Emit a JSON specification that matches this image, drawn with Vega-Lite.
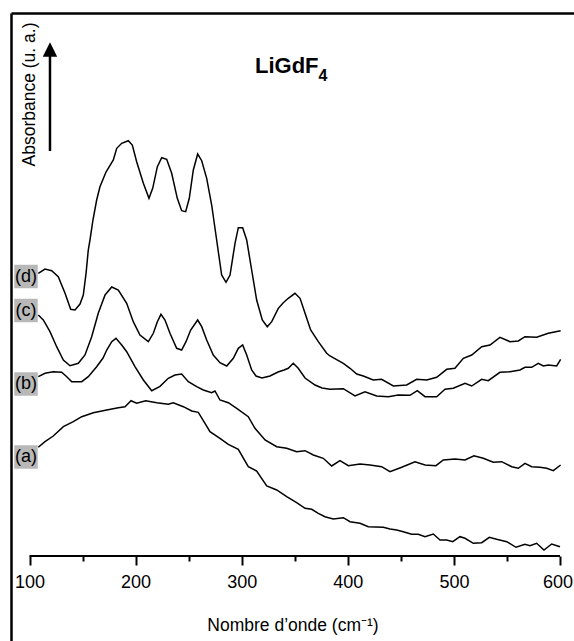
{
  "$schema": "https://vega.github.io/schema/vega-lite/v6.json",
  "width": 563,
  "height": 628,
  "autosize": {"type": "none"},
  "padding": {"left": 11, "top": 13, "right": 0, "bottom": 0},
  "background": "white",
  "config": {"view": {"stroke": null}, "font": "Liberation Sans"},
  "datasets": {
    "spectra": [
      {"s":"d","nu":108.3,"a":367.7},{"s":"d","nu":114.6,"a":372},{"s":"d","nu":120.9,"a":370.3},{"s":"d","nu":127.1,"a":364.3},{"s":"d","nu":133.5,"a":347.7},{"s":"d","nu":138.8,"a":331.7},{"s":"d","nu":142.9,"a":331},{"s":"d","nu":147.6,"a":337},{"s":"d","nu":150.7,"a":346},{"s":"d","nu":153.3,"a":367.7},{"s":"d","nu":155.4,"a":391},{"s":"d","nu":157.0,"a":401},{"s":"d","nu":159.8,"a":421},{"s":"d","nu":163.3,"a":441},{"s":"d","nu":166.4,"a":454.3},{"s":"d","nu":172.1,"a":469},{"s":"d","nu":179.0,"a":481},{"s":"d","nu":182.2,"a":492.7},{"s":"d","nu":186.9,"a":497.7},{"s":"d","nu":193.1,"a":500.3},{"s":"d","nu":196.9,"a":496},{"s":"d","nu":201.0,"a":479.3},{"s":"d","nu":207.3,"a":457.7},{"s":"d","nu":212.6,"a":442.7},{"s":"d","nu":216.1,"a":452.7},{"s":"d","nu":220.5,"a":474.3},{"s":"d","nu":224.6,"a":483.3},{"s":"d","nu":229.3,"a":481.7},{"s":"d","nu":234.0,"a":467.7},{"s":"d","nu":239.3,"a":442.7},{"s":"d","nu":243.4,"a":430.3},{"s":"d","nu":247.2,"a":429.3},{"s":"d","nu":250.6,"a":442.7},{"s":"d","nu":254.4,"a":471},{"s":"d","nu":258.5,"a":487},{"s":"d","nu":262.3,"a":480.3},{"s":"d","nu":267.0,"a":462.7},{"s":"d","nu":271.7,"a":436},{"s":"d","nu":276.4,"a":401},{"s":"d","nu":281.1,"a":366},{"s":"d","nu":285.2,"a":358.7},{"s":"d","nu":289.0,"a":366},{"s":"d","nu":293.7,"a":397.7},{"s":"d","nu":296.8,"a":413.3},{"s":"d","nu":300.9,"a":413.3},{"s":"d","nu":304.7,"a":401},{"s":"d","nu":309.4,"a":371},{"s":"d","nu":314.1,"a":341},{"s":"d","nu":319.4,"a":321},{"s":"d","nu":324.1,"a":314.3},{"s":"d","nu":328.3,"a":319.3},{"s":"d","nu":334.5,"a":332.7},{"s":"d","nu":339.2,"a":338.3},{"s":"d","nu":343.9,"a":342.7},{"s":"d","nu":350.2,"a":347.7},{"s":"d","nu":355.0,"a":342.7},{"s":"d","nu":359.7,"a":327.7},{"s":"d","nu":365.0,"a":311},{"s":"d","nu":372.2,"a":299.3},{"s":"d","nu":380.1,"a":287.7},{"s":"d","nu":383.2,"a":285},{"s":"d","nu":395.8,"a":277.7},{"s":"d","nu":402.1,"a":272.7},{"s":"d","nu":408.4,"a":267},{"s":"d","nu":414.6,"a":265},{"s":"d","nu":424.0,"a":261},{"s":"d","nu":431.9,"a":261.7},{"s":"d","nu":442.9,"a":255},{"s":"d","nu":455.5,"a":256},{"s":"d","nu":464.9,"a":261.7},{"s":"d","nu":474.4,"a":261},{"s":"d","nu":483.8,"a":263.7},{"s":"d","nu":493.2,"a":271.7},{"s":"d","nu":501.0,"a":272.7},{"s":"d","nu":508.9,"a":282.7},{"s":"d","nu":516.8,"a":286},{"s":"d","nu":526.2,"a":294.3},{"s":"d","nu":534.0,"a":296},{"s":"d","nu":543.4,"a":303.7},{"s":"d","nu":552.9,"a":299.3},{"s":"d","nu":560.7,"a":300},{"s":"d","nu":567.0,"a":304.3},{"s":"d","nu":578.0,"a":303.7},{"s":"d","nu":589.0,"a":307.7},{"s":"d","nu":600.6,"a":310.3},
      {"s":"c","nu":108.3,"a":326},{"s":"c","nu":113.0,"a":321},{"s":"c","nu":119.3,"a":309.3},{"s":"c","nu":125.6,"a":294.3},{"s":"c","nu":131.9,"a":281},{"s":"c","nu":138.2,"a":275.3},{"s":"c","nu":146.0,"a":277.7},{"s":"c","nu":152.3,"a":286},{"s":"c","nu":158.6,"a":304.3},{"s":"c","nu":164.8,"a":327.7},{"s":"c","nu":171.2,"a":346},{"s":"c","nu":177.5,"a":354},{"s":"c","nu":183.7,"a":351},{"s":"c","nu":191.6,"a":337.7},{"s":"c","nu":197.8,"a":319.3},{"s":"c","nu":204.1,"a":306},{"s":"c","nu":212.0,"a":299.3},{"s":"c","nu":216.7,"a":307.7},{"s":"c","nu":220.5,"a":319.3},{"s":"c","nu":223.9,"a":326.7},{"s":"c","nu":227.7,"a":321},{"s":"c","nu":232.4,"a":307.7},{"s":"c","nu":238.7,"a":292.7},{"s":"c","nu":243.4,"a":291},{"s":"c","nu":247.5,"a":299.3},{"s":"c","nu":251.9,"a":311},{"s":"c","nu":258.5,"a":321},{"s":"c","nu":262.3,"a":314.3},{"s":"c","nu":267.0,"a":301},{"s":"c","nu":273.2,"a":286},{"s":"c","nu":279.5,"a":278.3},{"s":"c","nu":285.9,"a":275},{"s":"c","nu":292.1,"a":282.7},{"s":"c","nu":296.8,"a":292.7},{"s":"c","nu":300.9,"a":296},{"s":"c","nu":304.7,"a":286},{"s":"c","nu":309.4,"a":271},{"s":"c","nu":313.5,"a":265},{"s":"c","nu":319.1,"a":263},{"s":"c","nu":326.7,"a":265},{"s":"c","nu":334.2,"a":269},{"s":"c","nu":339.9,"a":271},{"s":"c","nu":343.9,"a":272.7},{"s":"c","nu":348.6,"a":277.7},{"s":"c","nu":353.3,"a":272.7},{"s":"c","nu":359.7,"a":263},{"s":"c","nu":369.1,"a":256},{"s":"c","nu":375.7,"a":253},{"s":"c","nu":383.2,"a":251.7},{"s":"c","nu":395.8,"a":252.3},{"s":"c","nu":406.8,"a":245},{"s":"c","nu":416.2,"a":249.3},{"s":"c","nu":427.2,"a":245},{"s":"c","nu":438.2,"a":244.3},{"s":"c","nu":447.6,"a":246},{"s":"c","nu":458.6,"a":245.7},{"s":"c","nu":465.5,"a":250.3},{"s":"c","nu":472.8,"a":244.3},{"s":"c","nu":483.8,"a":244.3},{"s":"c","nu":491.6,"a":251.7},{"s":"c","nu":499.4,"a":252.7},{"s":"c","nu":510.5,"a":257.7},{"s":"c","nu":516.8,"a":255},{"s":"c","nu":526.2,"a":261.7},{"s":"c","nu":532.4,"a":260.3},{"s":"c","nu":543.4,"a":268.7},{"s":"c","nu":552.9,"a":269.3},{"s":"c","nu":562.3,"a":271},{"s":"c","nu":567.0,"a":273.7},{"s":"c","nu":573.3,"a":273.7},{"s":"c","nu":579.5,"a":277.7},{"s":"c","nu":584.3,"a":275},{"s":"c","nu":589.0,"a":276},{"s":"c","nu":596.9,"a":275},{"s":"c","nu":600.6,"a":281.7},
      {"s":"b","nu":108.3,"a":264.3},{"s":"b","nu":114.6,"a":267.7},{"s":"b","nu":122.4,"a":269.3},{"s":"b","nu":130.3,"a":268.7},{"s":"b","nu":135.1,"a":264.3},{"s":"b","nu":139.8,"a":259.3},{"s":"b","nu":149.2,"a":259.3},{"s":"b","nu":155.4,"a":264.3},{"s":"b","nu":163.3,"a":274.3},{"s":"b","nu":169.3,"a":283},{"s":"b","nu":172.8,"a":291},{"s":"b","nu":177.5,"a":299.3},{"s":"b","nu":181.5,"a":302.7},{"s":"b","nu":186.9,"a":296},{"s":"b","nu":191.6,"a":289.3},{"s":"b","nu":199.4,"a":274.3},{"s":"b","nu":207.3,"a":261},{"s":"b","nu":215.2,"a":250.3},{"s":"b","nu":223.0,"a":254.7},{"s":"b","nu":230.8,"a":262.7},{"s":"b","nu":237.1,"a":266},{"s":"b","nu":243.4,"a":267},{"s":"b","nu":249.7,"a":259.3},{"s":"b","nu":257.6,"a":254.3},{"s":"b","nu":263.8,"a":251},{"s":"b","nu":271.7,"a":248.3},{"s":"b","nu":274.8,"a":250},{"s":"b","nu":279.5,"a":241},{"s":"b","nu":287.4,"a":238.3},{"s":"b","nu":295.3,"a":232.7},{"s":"b","nu":306.2,"a":224.3},{"s":"b","nu":312.5,"a":212.7},{"s":"b","nu":322.0,"a":201},{"s":"b","nu":333.0,"a":194.3},{"s":"b","nu":342.4,"a":192.7},{"s":"b","nu":351.8,"a":189.3},{"s":"b","nu":359.7,"a":190.3},{"s":"b","nu":367.5,"a":186},{"s":"b","nu":376.9,"a":182.7},{"s":"b","nu":384.8,"a":175},{"s":"b","nu":392.6,"a":180.3},{"s":"b","nu":400.5,"a":175.3},{"s":"b","nu":411.5,"a":177},{"s":"b","nu":420.9,"a":176},{"s":"b","nu":431.9,"a":174.3},{"s":"b","nu":439.8,"a":169.3},{"s":"b","nu":450.8,"a":173.7},{"s":"b","nu":463.3,"a":179.3},{"s":"b","nu":472.8,"a":176},{"s":"b","nu":483.1,"a":175.3},{"s":"b","nu":490.0,"a":181},{"s":"b","nu":501.0,"a":182},{"s":"b","nu":510.5,"a":181},{"s":"b","nu":518.9,"a":185.3},{"s":"b","nu":527.7,"a":182.7},{"s":"b","nu":537.1,"a":178.7},{"s":"b","nu":545.0,"a":179.3},{"s":"b","nu":554.5,"a":174.3},{"s":"b","nu":560.7,"a":172.7},{"s":"b","nu":567.0,"a":177.7},{"s":"b","nu":573.3,"a":174.3},{"s":"b","nu":581.1,"a":173.7},{"s":"b","nu":587.5,"a":172.7},{"s":"b","nu":593.7,"a":170.3},{"s":"b","nu":600.6,"a":176},
      {"s":"a","nu":108.3,"a":193.7},{"s":"a","nu":114.6,"a":199.3},{"s":"a","nu":122.4,"a":205},{"s":"a","nu":131.9,"a":214.3},{"s":"a","nu":141.3,"a":219.3},{"s":"a","nu":149.2,"a":224.3},{"s":"a","nu":160.1,"a":228.3},{"s":"a","nu":172.8,"a":231},{"s":"a","nu":183.7,"a":233.3},{"s":"a","nu":190.0,"a":234.3},{"s":"a","nu":195.7,"a":240.3},{"s":"a","nu":201.0,"a":237.7},{"s":"a","nu":209.5,"a":240.3},{"s":"a","nu":219.9,"a":238.3},{"s":"a","nu":230.8,"a":236.7},{"s":"a","nu":235.5,"a":238.3},{"s":"a","nu":245.0,"a":234.3},{"s":"a","nu":252.9,"a":230},{"s":"a","nu":259.1,"a":228.7},{"s":"a","nu":265.4,"a":217.7},{"s":"a","nu":270.1,"a":209.3},{"s":"a","nu":279.5,"a":202.7},{"s":"a","nu":287.4,"a":196.7},{"s":"a","nu":296.8,"a":191.7},{"s":"a","nu":306.2,"a":174.3},{"s":"a","nu":314.1,"a":170},{"s":"a","nu":323.6,"a":155},{"s":"a","nu":333.0,"a":151},{"s":"a","nu":342.4,"a":144.3},{"s":"a","nu":351.8,"a":138.3},{"s":"a","nu":359.7,"a":132.7},{"s":"a","nu":366.0,"a":131.7},{"s":"a","nu":372.2,"a":127.7},{"s":"a","nu":378.5,"a":124.3},{"s":"a","nu":386.3,"a":122},{"s":"a","nu":395.8,"a":123.3},{"s":"a","nu":402.1,"a":119.3},{"s":"a","nu":411.5,"a":117.7},{"s":"a","nu":419.3,"a":114.3},{"s":"a","nu":433.5,"a":113.7},{"s":"a","nu":439.8,"a":112},{"s":"a","nu":446.1,"a":111},{"s":"a","nu":452.3,"a":109.3},{"s":"a","nu":460.2,"a":106.7},{"s":"a","nu":466.4,"a":106.7},{"s":"a","nu":472.8,"a":104.3},{"s":"a","nu":480.6,"a":107},{"s":"a","nu":486.9,"a":101},{"s":"a","nu":493.2,"a":101},{"s":"a","nu":498.9,"a":99.3},{"s":"a","nu":505.7,"a":104.3},{"s":"a","nu":510.5,"a":102.7},{"s":"a","nu":518.3,"a":97.7},{"s":"a","nu":526.2,"a":98.3},{"s":"a","nu":533.4,"a":103.7},{"s":"a","nu":540.3,"a":101.7},{"s":"a","nu":549.8,"a":99.3},{"s":"a","nu":558.5,"a":93.7},{"s":"a","nu":567.0,"a":96.7},{"s":"a","nu":571.7,"a":95.3},{"s":"a","nu":578.0,"a":97.7},{"s":"a","nu":584.9,"a":91},{"s":"a","nu":592.2,"a":97},{"s":"a","nu":600.0,"a":94.3}
    ],
    "labels": [
      {"lab":"(d)","nu":96.7,"a":364.5},
      {"lab":"(c)","nu":96.7,"a":330.5},
      {"lab":"(b)","nu":96.7,"a":257},
      {"lab":"(a)","nu":96.7,"a":184}
    ]
  },
  "resolve": {"axis": {"x": "independent", "y": "independent"}},
  "layer": [
    {
      "data": {"name": "spectra"},
      "mark": {"type": "line", "color": "black", "strokeWidth": 1.5, "interpolate": "linear"},
      "encoding": {
        "x": {
          "field": "nu", "type": "quantitative",
          "scale": {"domain": [82.56, 613.2], "nice": false, "zero": false},
          "axis": {
            "orient": "bottom", "offset": -85, "domain": false, "grid": false,
            "values": [100,150,200,250,300,350,400,450,500,550,600],
            "ticks": true, "tickColor": "black", "tickWidth": 2,
            "tickSize": {"condition": {"test": "datum.value % 100 === 0", "value": 9}, "value": 5},
            "labelExpr": "datum.value % 100 === 0 ? datum.label : ''",
            "labelOffset": {"condition": {"test": "datum.value === 600", "value": -2.5}, "value": 0},
            "labelFontSize": 18, "labelColor": "black", "labelPadding": 8.5, "labelFlush": false, "labelOverlap": false, "labelBound": false,
            "title": "Nombre d’onde (cm⁻¹)", "titleFontSize": 17.5, "titleFontWeight": "normal", "titleColor": "black",
            "titleBaseline": "alphabetic", "titleY": 74
          }
        },
        "y": {
          "field": "a", "type": "quantitative",
          "scale": {"domain": [0, 628], "nice": false, "zero": false},
          "axis": {
            "orient": "left", "domain": true, "domainColor": "black", "domainWidth": 2.5,
            "ticks": false, "labels": false, "grid": false,
            "title": "Absorbance (u. a.)", "titleFontSize": 17.5, "titleFontWeight": "normal", "titleColor": "black",
            "titleAngle": 270, "titleAlign": "center", "titleBaseline": "middle", "titleX": 18, "titleY": 81
          }
        },
        "detail": {"field": "s", "type": "nominal"}
      }
    },
    {
      "data": {"values": [{"nu": 100, "nu2": 600, "a": 85}]},
      "mark": {"type": "rule", "color": "black", "strokeWidth": 2},
      "encoding": {
        "x": {"field": "nu", "type": "quantitative", "axis": {"orient": "top", "domain": true, "domainColor": "black", "domainWidth": 2.5, "ticks": false, "labels": false, "grid": false, "title": null}},
        "x2": {"field": "nu2"},
        "y": {"field": "a", "type": "quantitative", "axis": null}
      }
    },
    {
      "data": {"values": [{"nu": 119.3, "a": 490, "a2": 586}]},
      "mark": {"type": "rule", "color": "black", "strokeWidth": 2.5},
      "encoding": {
        "x": {"field": "nu", "type": "quantitative", "axis": null},
        "y": {"field": "a", "type": "quantitative", "axis": null},
        "y2": {"field": "a2"}
      }
    },
    {
      "data": {"values": [{"nu": 119.3, "a": 591.5}]},
      "mark": {"type": "point", "shape": "M0,-1L1,1L-1,1Z", "size": 210, "filled": true, "color": "black", "opacity": 1, "strokeWidth": 0},
      "encoding": {
        "x": {"field": "nu", "type": "quantitative", "axis": null},
        "y": {"field": "a", "type": "quantitative", "axis": null}
      }
    },
    {
      "data": {"name": "labels"},
      "mark": {"type": "point", "shape": "square", "size": 552, "filled": true, "color": "#b8b8b8", "opacity": 1, "strokeWidth": 0},
      "encoding": {
        "x": {"field": "nu", "type": "quantitative", "axis": null},
        "y": {"field": "a", "type": "quantitative", "axis": null}
      }
    },
    {
      "data": {"name": "labels"},
      "mark": {"type": "text", "fontSize": 18, "color": "black", "align": "center", "baseline": "middle"},
      "encoding": {
        "x": {"field": "nu", "type": "quantitative", "axis": null},
        "y": {"field": "a", "type": "quantitative", "axis": null},
        "text": {"field": "lab"}
      }
    },
    {
      "data": {"values": [{"t": "LiGdF", "nu": 312.5, "a": 568}]},
      "mark": {"type": "text", "fontSize": 22, "fontWeight": "bold", "color": "black", "align": "left", "baseline": "alphabetic"},
      "encoding": {
        "x": {"field": "nu", "type": "quantitative", "axis": null},
        "y": {"field": "a", "type": "quantitative", "axis": null},
        "text": {"field": "t"}
      }
    },
    {
      "data": {"values": [{"t": "4", "nu": 372.4, "a": 560.3}]},
      "mark": {"type": "text", "fontSize": 16, "fontWeight": "bold", "color": "black", "align": "left", "baseline": "alphabetic"},
      "encoding": {
        "x": {"field": "nu", "type": "quantitative", "axis": null},
        "y": {"field": "a", "type": "quantitative", "axis": null},
        "text": {"field": "t"}
      }
    }
  ]
}
